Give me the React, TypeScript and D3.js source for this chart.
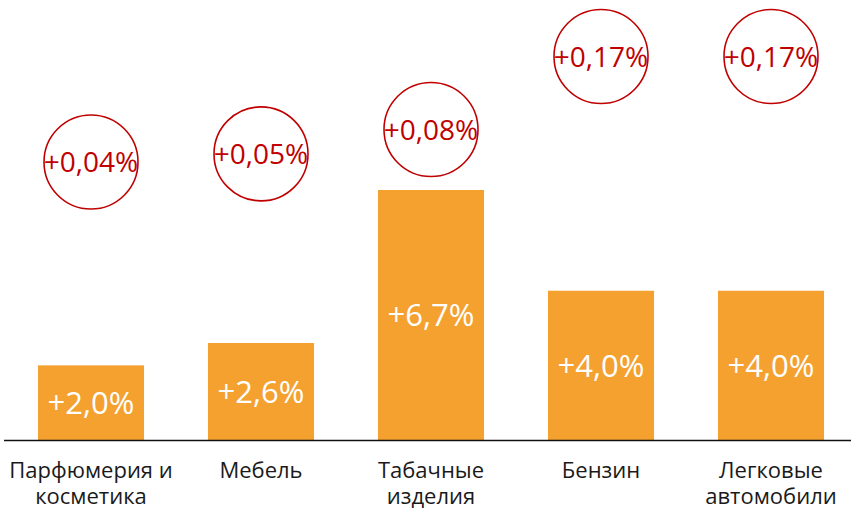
import React from "react";
import * as d3 from "d3";

const categories = ["Парфюмерия и|косметика", "Мебель", "Табачные|изделия", "Бензин", "Легковые|автомобили"];
const priceGrowth = [2.0, 2.6, 6.7, 4.0, 4.0];
const priceLabels = ["+2,0%", "+2,6%", "+6,7%", "+4,0%", "+4,0%"];
const contribution = [0.04, 0.05, 0.08, 0.17, 0.17];
const contributionLabels = ["+0,04%", "+0,05%", "+0,08%", "+0,17%", "+0,17%"];

const W = 851;
const H = 510;
const FONT = "'Open Sans', 'Noto Sans', sans-serif";

export default function App() {
  const x = d3.scaleBand<number>().domain(d3.range(categories.length)).range([6, 856]).paddingInner(0.376).paddingOuter(0.188);
  const y = d3.scaleLinear().domain([0, 6.7]).range([440, 190]);
  const yc = d3.scaleLinear().domain([0.04, 0.17]).range([162, 56.5]);
  const r = 47;
  return (
    <svg width={W} height={H} style={{ position: "absolute", left: 0, top: 0, background: "#fff" }}>
      {priceGrowth.map((v, i) => (
        <g key={i}>
          <rect x={x(i)} y={y(v)} width={x.bandwidth()} height={y(0) - y(v)} fill="#F4A12F" />
          <text
            x={x(i)! + x.bandwidth() / 2}
            y={(y(v) + y(0)) / 2}
            dy="0.36em"
            textAnchor="middle"
            fill="#fff"
            fontFamily={FONT}
            fontSize={31}
          >
            {priceLabels[i]}
          </text>
        </g>
      ))}
      <line x1={4} x2={851} y1={y(0) + 0.5} y2={y(0) + 0.5} stroke="#111" strokeWidth={1.5} />
      {contribution.map((v, i) => {
        const cx = x(i)! + x.bandwidth() / 2;
        return (
          <g key={i}>
            <circle cx={cx} cy={yc(v)} r={r} fill="none" stroke="#C00000" strokeWidth={1.6} />
            <text x={cx} y={yc(v)} dy="0.36em" textAnchor="middle" fill="#C00000" fontFamily={FONT} fontSize={28} fontWeight={500}>
              {contributionLabels[i]}
            </text>
          </g>
        );
      })}
      {categories.map((c, i) => {
        const cx = x(i)! + x.bandwidth() / 2;
        return (
          <text key={i} x={cx} y={478} textAnchor="middle" fill="#1a1a1a" fontFamily={FONT} fontSize={22}>
            {c.split("|").map((line, j) => (
              <tspan key={j} x={cx} dy={j === 0 ? 0 : 26}>
                {line}
              </tspan>
            ))}
          </text>
        );
      })}
    </svg>
  );
}
